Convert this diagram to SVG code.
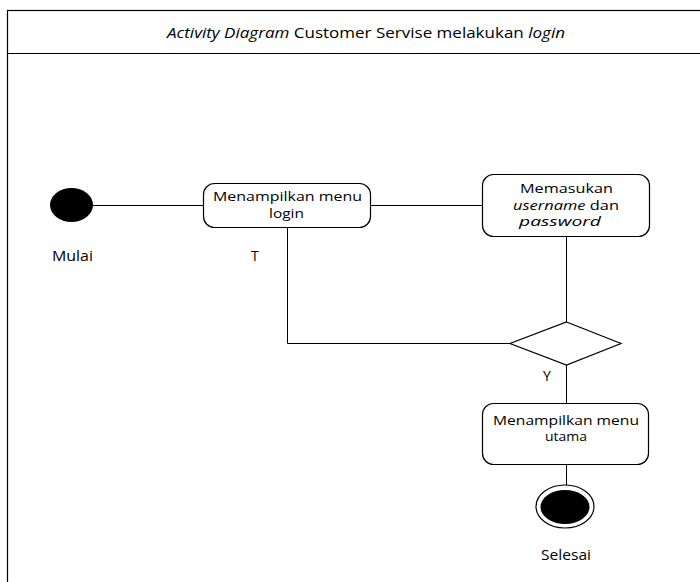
<svg xmlns="http://www.w3.org/2000/svg" width="700" height="582" viewBox="0 0 700 582">
<style>
.ln{fill:none;stroke:#000;stroke-width:1}
.box{fill:#fff;stroke:#000;stroke-width:1.2}
text{font-family:"Open Sans","Liberation Sans",sans-serif;font-size:14px;fill:#000}
.b{font-size:13px}
.c{text-anchor:middle}
.i{font-style:italic}
</style>
<rect width="700" height="582" fill="#fff"/>
<g id="frame">
<rect x="7.5" y="10.5" width="700" height="600" fill="none" stroke="#000" stroke-width="1.2"/>
<line x1="7.5" y1="53.5" x2="700" y2="53.5" stroke="#000" stroke-width="1.2"/>
<text class="c" x="366" y="38" textLength="398" lengthAdjust="spacingAndGlyphs"><tspan class="i">Activity Diagram</tspan> Customer Servise melakukan <tspan class="i">login</tspan></text>
</g>
<g id="connectors">
<line class="ln" x1="93" y1="205.5" x2="203" y2="205.5"/>
<line class="ln" x1="371" y1="205.5" x2="482" y2="205.5"/>
<line class="ln" x1="566.5" y1="236" x2="566.5" y2="322"/>
<polyline class="ln" points="287.5,227 287.5,343.5 510,343.5"/>
<line class="ln" x1="566.5" y1="365" x2="566.5" y2="403"/>
<line class="ln" x1="566.5" y1="464" x2="566.5" y2="485"/>
<text x="251" y="261">T</text>
<text x="543" y="381">Y</text>
</g>
<g id="start">
<ellipse cx="71.5" cy="205" rx="21.5" ry="17" fill="#000"/>
<text x="52" y="261" textLength="41" lengthAdjust="spacingAndGlyphs">Mulai</text>
</g>
<g id="menu-login">
<rect class="box" x="203.5" y="183.5" width="167" height="44" rx="11"/>
<text class="c b" x="287.5" y="201" textLength="149" lengthAdjust="spacingAndGlyphs">Menampilkan menu</text>
<text class="c b" x="286.5" y="218" textLength="35" lengthAdjust="spacingAndGlyphs">login</text>
</g>
<g id="input">
<rect class="box" x="482.5" y="174.5" width="167" height="62" rx="11"/>
<text class="c b" x="566.5" y="193" textLength="93" lengthAdjust="spacingAndGlyphs">Memasukan</text>
<text class="c b" x="566" y="210" textLength="106" lengthAdjust="spacingAndGlyphs"><tspan class="i">username</tspan> dan</text>
<text class="c b i" x="560" y="226" textLength="82" lengthAdjust="spacingAndGlyphs">password</text>
</g>
<g id="decision">
<polygon points="566.5,322 621,343.5 566.5,365 510,343.5" fill="#fff" stroke="#000" stroke-width="1.2"/>
</g>
<g id="menu-utama">
<rect class="box" x="482.5" y="403.5" width="166" height="61" rx="11"/>
<text class="c b" x="566" y="425" textLength="146" lengthAdjust="spacingAndGlyphs">Menampilkan menu</text>
<text class="c b" x="566" y="441" textLength="42" lengthAdjust="spacingAndGlyphs">utama</text>
</g>
<g id="end">
<ellipse cx="565" cy="506.5" rx="29" ry="21.5" fill="#fff" stroke="#000" stroke-width="1.2"/>
<ellipse cx="565" cy="507" rx="24.5" ry="17" fill="#000"/>
<text x="541" y="560" textLength="50" lengthAdjust="spacingAndGlyphs">Selesai</text>
</g>
</svg>
